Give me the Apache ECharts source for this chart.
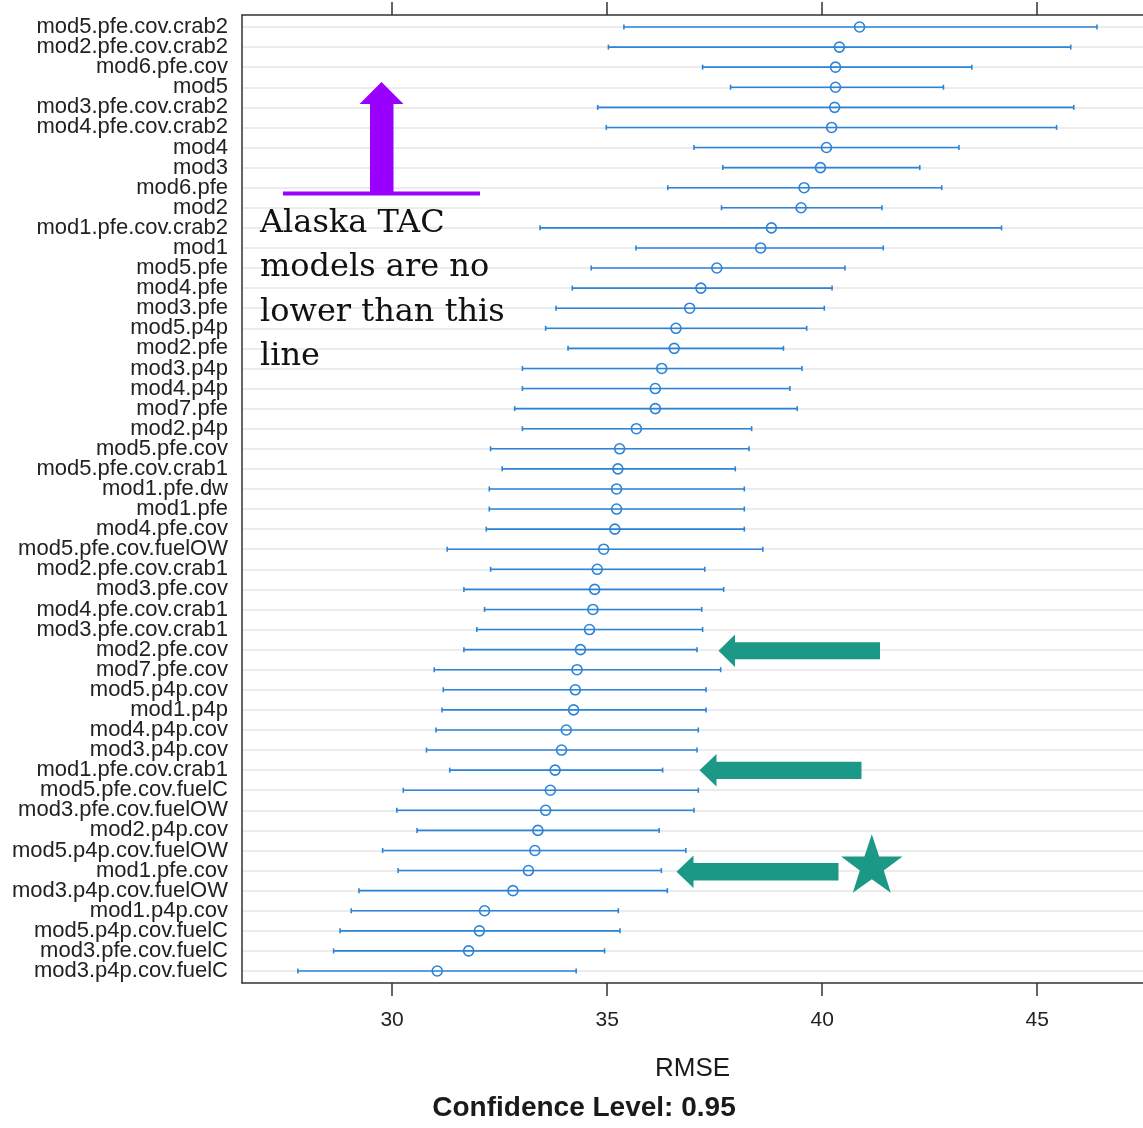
<!DOCTYPE html>
<html>
<head>
<meta charset="utf-8">
<script src="https://cdn.jsdelivr.net/npm/echarts@6/dist/echarts.min.js"></script>
<style>
  html, body { margin: 0; padding: 0; background: #fff; }
  #chart { width: 1143px; height: 1128px; }
</style>
</head>
<body>
<div id="chart"></div>
<script>
// Resampled RMSE per model (top row first), with 95% confidence limits
const models = [
  'mod5.pfe.cov.crab2', 'mod2.pfe.cov.crab2', 'mod6.pfe.cov', 'mod5',
  'mod3.pfe.cov.crab2', 'mod4.pfe.cov.crab2', 'mod4', 'mod3',
  'mod6.pfe', 'mod2', 'mod1.pfe.cov.crab2', 'mod1',
  'mod5.pfe', 'mod4.pfe', 'mod3.pfe', 'mod5.p4p',
  'mod2.pfe', 'mod3.p4p', 'mod4.p4p', 'mod7.pfe',
  'mod2.p4p', 'mod5.pfe.cov', 'mod5.pfe.cov.crab1', 'mod1.pfe.dw',
  'mod1.pfe', 'mod4.pfe.cov', 'mod5.pfe.cov.fuelOW', 'mod2.pfe.cov.crab1',
  'mod3.pfe.cov', 'mod4.pfe.cov.crab1', 'mod3.pfe.cov.crab1', 'mod2.pfe.cov',
  'mod7.pfe.cov', 'mod5.p4p.cov', 'mod1.p4p', 'mod4.p4p.cov',
  'mod3.p4p.cov', 'mod1.pfe.cov.crab1', 'mod5.pfe.cov.fuelC', 'mod3.pfe.cov.fuelOW',
  'mod2.p4p.cov', 'mod5.p4p.cov.fuelOW', 'mod1.pfe.cov', 'mod3.p4p.cov.fuelOW',
  'mod1.p4p.cov', 'mod5.p4p.cov.fuelC', 'mod3.pfe.cov.fuelC', 'mod3.p4p.cov.fuelC'
];

const rmse = [
  40.87, 40.40, 40.31, 40.31, 40.29, 40.22, 40.10, 39.96,
  39.58, 39.51, 38.82, 38.57, 37.55, 37.18, 36.92, 36.60,
  36.56, 36.27, 36.12, 36.12, 35.68, 35.29, 35.25, 35.22,
  35.22, 35.18, 34.92, 34.77, 34.71, 34.67, 34.59, 34.38,
  34.30, 34.26, 34.22, 34.05, 33.94, 33.79, 33.68, 33.57,
  33.39, 33.32, 33.17, 32.81, 32.15, 32.03, 31.78, 31.05
];

const lower = [
  35.39, 35.03, 37.22, 37.87, 34.78, 34.98, 37.02, 37.69,
  36.41, 37.66, 33.44, 35.67, 34.63, 34.19, 33.81, 33.57,
  34.09, 33.03, 33.03, 32.85, 33.03, 32.29, 32.56, 32.26,
  32.26, 32.19, 31.28, 32.29, 31.67, 32.15, 31.97, 31.67,
  30.98, 31.19, 31.16, 31.02, 30.80, 31.34, 30.26, 30.11,
  30.58, 29.78, 30.14, 29.23, 29.05, 28.79, 28.64, 27.81
];

const upper = [
  46.39, 45.78, 43.48, 42.82, 45.85, 45.45, 43.18, 42.27,
  42.78, 41.39, 44.17, 41.42, 40.53, 40.23, 40.05, 39.64,
  39.10, 39.53, 39.25, 39.42, 38.36, 38.30, 37.98, 38.19,
  38.19, 38.19, 38.62, 37.27, 37.71, 37.20, 37.22, 37.09,
  37.64, 37.30, 37.30, 37.12, 37.09, 36.29, 37.12, 37.02,
  36.21, 36.83, 36.26, 36.40, 35.26, 35.30, 34.94, 34.28
];

const xTicks = [30, 35, 40, 45];
const xLabel = 'RMSE';
const caption = 'Confidence Level: 0.95';
const noteLines = ['Alaska TAC', 'models are no', 'lower than this', 'line'];

// the panel runs to the right edge of the canvas, which clips its right side
const X_MIN = 26.51, X_MAX = 47.46;
const BLUE = '#2c84d8';
const TEAL = '#1b9986';
const PURPLE = '#9900ff';
const FRAME = { color: '#333', width: 1.5 };
const SANS = '"Liberation Sans", Arial, sans-serif';

const rows = models.map((m, i) => [rmse[i], i, lower[i], upper[i]]);

// five-pointed star outline for the marker annotation
function starPoints(cx, cy, rOut, rIn) {
  const pts = [];
  for (let k = 0; k < 10; k++) {
    const r = k % 2 === 0 ? rOut : rIn;
    const a = -Math.PI / 2 + k * Math.PI / 5;
    pts.push([cx + r * Math.cos(a), cy + r * Math.sin(a)]);
  }
  return pts;
}

// left-pointing block arrow: tip (x,y), tail end x, shaft and head sizes
function leftArrow(tipX, y, tailX, headLen, headHalf, shaftHalf) {
  return [
    [tipX, y], [tipX + headLen, y - headHalf], [tipX + headLen, y - shaftHalf],
    [tailX, y - shaftHalf], [tailX, y + shaftHalf], [tipX + headLen, y + shaftHalf],
    [tipX + headLen, y + headHalf]
  ];
}

const chart = echarts.init(document.getElementById('chart'), null, { renderer: 'canvas' });

const option = {
  backgroundColor: '#ffffff',
  animation: false,
  title: {
    text: caption,
    left: 579,
    top: 1089,
    textAlign: 'center',
    textStyle: { fontFamily: SANS, fontSize: 28, fontWeight: 'bold', color: '#1a1a1a' }
  },
  grid: [
    // panel frame with the RMSE scale
    { left: 242, top: 15, right: 0, height: 968 },
    // rows of the dot plot
    { left: 242, top: 27, right: 0, height: 944 }
  ],
  xAxis: [
    {
      gridIndex: 0, type: 'value', position: 'bottom', min: X_MIN, max: X_MAX,
      name: xLabel, nameLocation: 'middle', nameGap: 73,
      nameTextStyle: { fontFamily: SANS, fontSize: 26, color: '#1a1a1a' },
      axisLine: { show: true, lineStyle: FRAME },
      axisTick: { show: true, inside: false, length: 13, customValues: xTicks, lineStyle: FRAME },
      axisLabel: { show: true, customValues: xTicks, margin: 27, fontFamily: SANS, fontSize: 21, color: '#222' },
      splitLine: { show: false }
    },
    {
      gridIndex: 0, type: 'value', position: 'top', min: X_MIN, max: X_MAX,
      axisLine: { show: true, lineStyle: FRAME },
      axisTick: { show: true, inside: false, length: 13, customValues: xTicks, lineStyle: FRAME },
      axisLabel: { show: false },
      splitLine: { show: false }
    },
    {
      gridIndex: 1, type: 'value', min: X_MIN, max: X_MAX, show: false
    }
  ],
  yAxis: [
    {
      gridIndex: 0, type: 'value', position: 'left',
      axisLine: { show: true, onZero: false, lineStyle: FRAME },
      axisTick: { show: false }, axisLabel: { show: false }, splitLine: { show: false }
    },
    {
      gridIndex: 1, type: 'category', data: models, inverse: true, boundaryGap: false,
      axisLine: { show: false },
      axisTick: { show: false },
      axisLabel: {
        interval: 0, hideOverlap: false, margin: 14,
        padding: [6, 0, 0, 0],
        fontFamily: SANS, fontSize: 22, color: '#222'
      },
      splitLine: { show: true, interval: 0, lineStyle: { color: '#e6e6e6', width: 1.5 } }
    }
  ],
  series: [
    {
      type: 'custom',
      xAxisIndex: 2,
      yAxisIndex: 1,
      data: rows,
      encode: { x: [0, 2, 3], y: 1 },
      z: 3,
      renderItem: function (params, api) {
        const row = api.value(1);
        const c = api.coord([api.value(0), row]);
        const lo = api.coord([api.value(2), row]);
        const hi = api.coord([api.value(3), row]);
        const stroke = { stroke: BLUE, lineWidth: 1.6 };
        const cap = 2.5;
        return {
          type: 'group',
          children: [
            { type: 'line', shape: { x1: lo[0], y1: c[1], x2: hi[0], y2: c[1] }, style: stroke },
            { type: 'line', shape: { x1: lo[0], y1: c[1] - cap, x2: lo[0], y2: c[1] + cap }, style: stroke },
            { type: 'line', shape: { x1: hi[0], y1: c[1] - cap, x2: hi[0], y2: c[1] + cap }, style: stroke },
            { type: 'circle', shape: { cx: c[0], cy: c[1], r: 5 }, style: { fill: 'none', stroke: BLUE, lineWidth: 1.6 } }
          ]
        };
      }
    }
  ],
  graphic: [
    // purple threshold line with upward arrow
    { type: 'rect', shape: { x: 283, y: 191.5, width: 197, height: 4 }, style: { fill: PURPLE }, z: 10 },
    {
      type: 'polygon', z: 10,
      shape: { points: [[381.5, 82], [403.5, 104], [393.5, 104], [393.5, 193], [370, 193], [370, 104], [359.5, 104]] },
      style: { fill: PURPLE }
    },
    {
      type: 'text', z: 10, left: 260, top: 201,
      style: {
        text: noteLines.join('\n'),
        font: '32px "DejaVu Serif", serif',
        fill: '#111',
        lineHeight: 44.6
      }
    },
    // green arrows pointing at selected models
    { type: 'polygon', z: 10, shape: { points: leftArrow(718.5, 650.7, 880, 16.5, 16.3, 8.5) }, style: { fill: TEAL } },
    { type: 'polygon', z: 10, shape: { points: leftArrow(699.5, 770.3, 861.5, 17, 16.3, 8.6) }, style: { fill: TEAL } },
    { type: 'polygon', z: 10, shape: { points: leftArrow(676.5, 871.8, 838.5, 17, 16.3, 8.7) }, style: { fill: TEAL } },
    { type: 'polygon', z: 10, shape: { points: starPoints(871.8, 866.6, 32.3, 12.6) }, style: { fill: TEAL } }
  ]
};

chart.setOption(option);
</script>
</body>
</html>
